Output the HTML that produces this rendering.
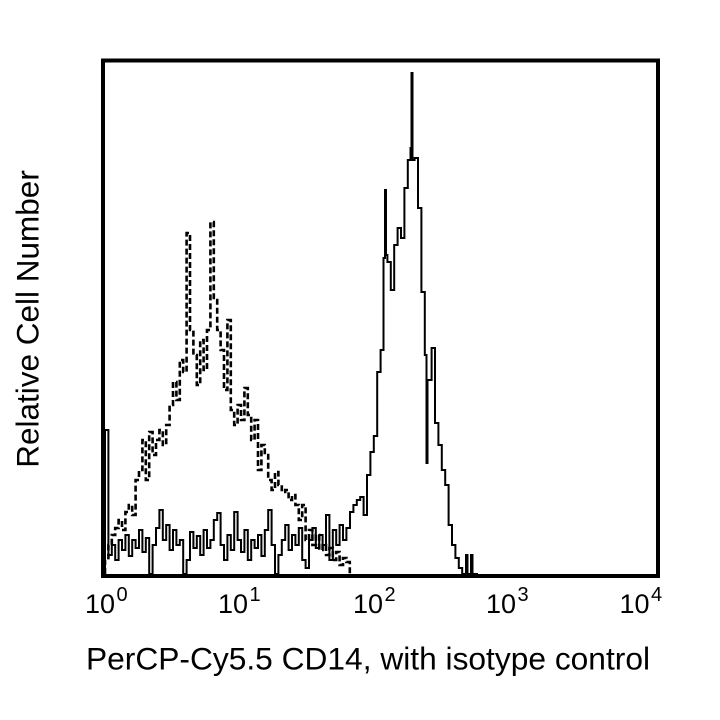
<!DOCTYPE html>
<html>
<head>
<meta charset="utf-8">
<style>
  html, body { margin: 0; padding: 0; background: #ffffff; }
  svg { display: block; }
  text { font-family: "Liberation Sans", Arial, sans-serif; fill: #000; }
</style>
</head>
<body>
<svg width="720" height="720" viewBox="0 0 720 720" xmlns="http://www.w3.org/2000/svg">
  <rect x="0" y="0" width="720" height="720" fill="#ffffff"/>

  <!-- dashed isotype histogram -->
  <path fill="none" stroke="#000" stroke-width="2.6" stroke-dasharray="6,3" d="M105,574 V560 H108.4 V545 H111.8 V535 H115.2 V528 H118.6 V520 H122 V530 H125.4 V512 H128.8 V505 H132.2 V515 H135.6 V480 H139 V470 H142.4 V440 H145.8 V480 H149.2 V432 H152.6 V455 H156 V440 H159.4 V430 H162.8 V445 H166.2 V425 H169.6 V405 H173 V382 H176.4 V400 H179.8 V360 H183.2 V372 H186.6 V233 H190 V330 H193.4 V355 H196.8 V385 H200.2 V340 H203.6 V370 H207 V330 H210.4 V222 H213.8 V300 H217.2 V330 H220.6 V350 H224 V390 H227.4 V320 H230.8 V410 H234.2 V425 H237.6 V405 H241 V420 H244.4 V388 H247.8 V415 H251.2 V440 H254.6 V420 H258 V470 H261.4 V445 H264.8 V455 H268.2 V480 H271.6 V490 H275 V472 H278.4 V485 H281.8 V492 H285.2 V490 H288.6 V500 H292 V495 H295.4 V505 H298.8 V520 H302.2 V505 H305.6 V540 H309 V530 H312.4 V545 H315.8 V535 H319.2 V550 H322.6 V545 H326 V555 H329.4 V548 H332.8 V560 H336.2 V552 H339.6 V565 H343 V558 H346.4 V562 H349.8 V574"/>

  <!-- solid CD14 histogram -->
  <path fill="none" stroke="#000" stroke-width="2" d="M105,574 V430 H108.4 V555 H111.8 V545 H115.2 V560 H118.6 V540 H122 V550 H125.4 V535 H128.8 V556 H132.2 V540 H135.6 V548 H139 V530 H142.4 V552 H145.8 V538 H149.2 V574 H152.6 V545 H156 V528 H159.4 V510 H162.8 V540 H166.2 V525 H169.6 V550 H173 V530 H176.4 V545 H179.8 V540 H183.2 V574 H186.6 V560 H190 V532 H193.4 V548 H196.8 V536 H200.2 V555 H203.6 V530 H207 V548 H210.4 V540 H213.8 V520 H217.2 V513 H220.6 V545 H224 V560 H227.4 V535 H230.8 V550 H234.2 V512 H237.6 V540 H241 V552 H244.4 V530 H247.8 V560 H251.2 V540 H254.6 V548 H258 V535 H261.4 V556 H264.8 V530 H268.2 V510 H271.6 V545 H275 V574 H278.4 V555 H281.8 V540 H285.2 V525 H288.6 V550 H292 V535 H295.4 V545 H298.8 V528 H302.2 V560 H305.6 V568 H309 V540 H312.4 V528 H315.8 V548 H319.2 V535 H322.6 V545 H326 V515 H329.4 V560 H332.8 V530 H336.2 V545 H339.6 V525 H343 V540 H346.4 V528 H350 V512 H353.4 V505 H356.8 V500 H360.2 V497 H363.6 V515 H367 V475 H370.4 V452 H373.8 V436 H377.2 V372 H380.6 V350 H383.5 V258 H385 V190 H386 V255 H387.4 V262 H390.8 V290 H394.2 V245 H397.6 V228 H401 V238 H404.4 V188 H407.8 V160 H410.5 V148 H411.5 V73 H412.5 V160 H414.6 V158 H418 V208 H421.4 V292 H424.8 V355 H426.5 V463 H427.5 V380 H431.6 V348 H435 V423 H438.4 V445 H441.8 V470 H445.2 V485 H448.6 V525 H452 V545 H455.4 V558 H458.8 V568 H462.2 V574 H466 V555 H467.5 V574 H471 V555 H472.5 V574 H478"/>

  <!-- frame -->
  <rect x="103" y="60.5" width="555" height="515.5" fill="none" stroke="#000" stroke-width="4"/>

  <!-- tick labels -->
  <g font-size="27">
    <text x="85" y="613">10<tspan dx="1.5" dy="-12" font-size="20">0</tspan></text>
    <text x="218" y="613">10<tspan dx="1.5" dy="-12" font-size="20">1</tspan></text>
    <text x="353" y="613">10<tspan dx="1.5" dy="-12" font-size="20">2</tspan></text>
    <text x="486" y="613">10<tspan dx="1.5" dy="-12" font-size="20">3</tspan></text>
    <text x="619.5" y="613">10<tspan dx="1.5" dy="-12" font-size="20">4</tspan></text>
  </g>

  <!-- axis titles -->
  <text x="86" y="669.3" font-size="31.5" textLength="564" lengthAdjust="spacingAndGlyphs">PerCP-Cy5.5 CD14, with isotype control</text>
  <text transform="translate(38.3,319) rotate(-90)" font-size="31.5" text-anchor="middle">Relative Cell Number</text>
</svg>
</body>
</html>
